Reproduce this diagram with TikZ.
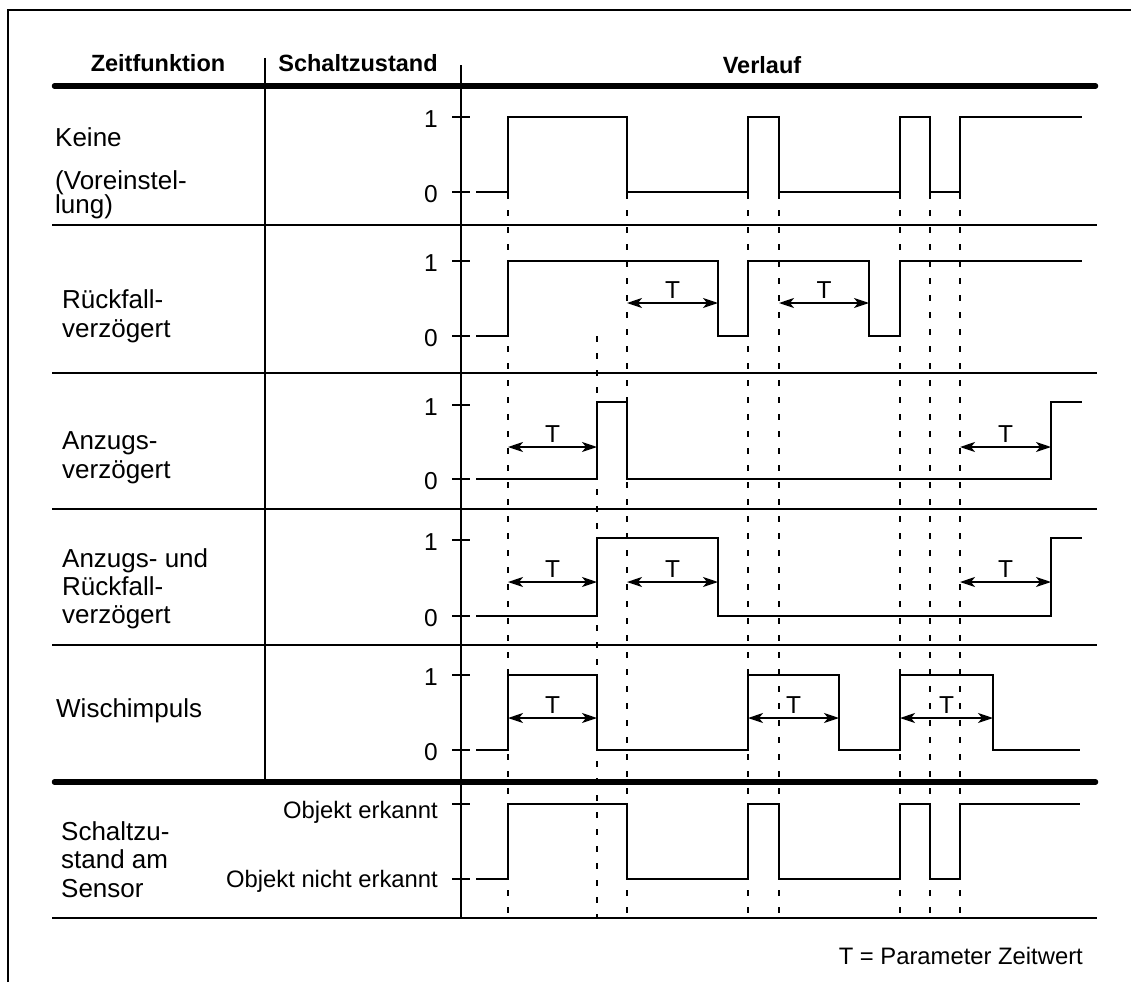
\documentclass[tikz,border=0pt]{standalone}
\usepackage{fontspec}
\setmainfont{Liberation Sans}
\usetikzlibrary{arrows.meta}

% switching instants along the time axis (x positions)
\def\ptA{508}\def\ptB{597}\def\ptC{627}\def\ptD{748}
\def\ptE{779}\def\ptF{900}\def\ptG{930}\def\ptH{960}
% delayed edges
\def\ptRf{718}\def\ptRg{869}\def\ptWd{839}\def\ptWg{993}\def\ptAe{1051}
\def\ptXs{476}\def\ptXe{1082}

\newcommand\tspan[4]{%
  \coordinate (#1-l) at (#2,#4);
  \coordinate (#1-r) at (#3,#4);
  \draw[span] (#1-l) -- (#1-r);
  \node[tlabel] (#1) at ({(#2+#3)/2},#4-4.5) {T};
}

\begin{document}
\begin{tikzpicture}[x=1pt,y=-1pt,
  frame/.style={line width=1.5pt},
  rowrule/.style={line width=2pt},
  heavyrule/.style={line width=5.5pt,line cap=round},
  colrule/.style={line width=2.4pt},
  signal/.style={line width=1.6pt,line join=miter},
  axistick/.style={line width=1.4pt},
  guide/.style={line width=1.3pt,dash pattern=on 6pt off 11pt},
  span/.style={line width=1.5pt,
    {Stealth[length=15pt,width=10pt,inset=4pt]}-{Stealth[length=15pt,width=10pt,inset=4pt]}},
  txt/.style={font=\fontsize{23.8}{28}\selectfont,inner sep=0pt},
  lbl/.style={inner sep=0pt,font=\fontsize{26}{30}\selectfont,anchor=base west},
  head/.style={txt,font=\fontsize{23.5}{28}\selectfont\bfseries,anchor=base},
  level/.style={txt,font=\fontsize{24.5}{28}\selectfont,anchor=east},
  tlabel/.style={txt,font=\fontsize{24.5}{28}\selectfont,anchor=base},
]
\useasboundingbox (0,0) rectangle (1131,982);

% outer frame
\draw[frame] (8,982) -- (8,10) -- (1131,10);

% dashed guide lines at the switching instants
\foreach \x in {\ptA,\ptC,\ptD,\ptE,\ptF,\ptG,\ptH}
  \draw[guide] (\x,193) -- (\x,918);
\draw[guide] (\ptB,336) -- (\ptB,918);

% table rules
\draw[heavyrule] (54.5,86) -- (1095.5,86);
\draw[heavyrule] (54.5,782) -- (1095.5,782);
\foreach \y in {225,373,509,645,918}
  \draw[rowrule] (52,\y) -- (1097,\y);
\draw[colrule] (265,58) -- (265,782);
\draw[colrule] (461,65) -- (461,918);

% axis ticks
\foreach \y in {117,192,261,336,405,479,540,616,675,750,804,879}
  \draw[axistick] (452,\y) -- (470,\y);

% header
\node[head] (hz) at (158,71) {Zeitfunktion};
\node[head] (hs) at (358,71) {Schaltzustand};
\node[head] (hv) at (762,74) {Verlauf};

% row labels
\node[lbl] (k1) at (55,146) {Keine};
\node[lbl] (k2) at (55,189) {(Voreinstel-};
\node[lbl] (k3) at (55,213) {lung)};
\node[lbl] (r1) at (62,308) {Rückfall-};
\node[lbl] (r2) at (62,337) {verzögert};
\node[lbl] (a1) at (62,449) {Anzugs-};
\node[lbl] (a2) at (62,478) {verzögert};
\node[lbl] (b1) at (62,567) {Anzugs- und};
\node[lbl] (b2) at (62,595) {Rückfall-};
\node[lbl] (b3) at (62,623) {verzögert};
\node[lbl] (w1) at (56,717) {Wischimpuls};
\node[lbl] (s1) at (61,840) {Schaltzu-};
\node[lbl] (s2) at (61,868) {stand am};
\node[lbl] (s3) at (61,897) {Sensor};

% level labels
\foreach \y/\n [count=\i] in {117/1,192/0,261/1,336/0,405/1,479/0,540/1,616/0,675/1,750/0}
  \node[level] (lv\i) at (438,\y+2) {\n};
\node[txt,anchor=base east] (on) at (438,818) {Objekt erkannt};
\node[txt,anchor=base east] (off) at (438,887) {Objekt nicht erkannt};

% signal traces
\draw[signal] (\ptXs,192) -- (\ptA,192) -- (\ptA,117) -- (\ptC,117) -- (\ptC,192)
  -- (\ptD,192) -- (\ptD,117) -- (\ptE,117) -- (\ptE,192) -- (\ptF,192) -- (\ptF,117)
  -- (\ptG,117) -- (\ptG,192) -- (\ptH,192) -- (\ptH,117) -- (\ptXe,117);
\draw[signal] (\ptXs,336) -- (\ptA,336) -- (\ptA,261) -- (\ptRf,261) -- (\ptRf,336)
  -- (\ptD,336) -- (\ptD,261) -- (\ptRg,261) -- (\ptRg,336) -- (\ptF,336) -- (\ptF,261)
  -- (\ptXe,261);
\draw[signal] (\ptXs,479) -- (\ptB,479) -- (\ptB,402) -- (\ptC,402) -- (\ptC,479)
  -- (\ptAe,479) -- (\ptAe,402) -- (\ptXe,402);
\draw[signal] (\ptXs,616) -- (\ptB,616) -- (\ptB,538) -- (\ptRf,538) -- (\ptRf,616)
  -- (\ptAe,616) -- (\ptAe,538) -- (\ptXe,538);
\draw[signal] (\ptXs,750) -- (\ptA,750) -- (\ptA,675) -- (\ptB,675) -- (\ptB,750)
  -- (\ptD,750) -- (\ptD,675) -- (\ptWd,675) -- (\ptWd,750) -- (\ptF,750) -- (\ptF,675)
  -- (\ptWg,675) -- (\ptWg,750) -- (1080,750);
\draw[signal] (\ptXs,879) -- (\ptA,879) -- (\ptA,804) -- (\ptC,804) -- (\ptC,879)
  -- (\ptD,879) -- (\ptD,804) -- (\ptE,804) -- (\ptE,879) -- (\ptF,879) -- (\ptF,804)
  -- (\ptG,804) -- (\ptG,879) -- (\ptH,879) -- (\ptH,804) -- (1080,804);

% delay spans
\tspan{ra}{\ptC}{\ptRf}{303}
\tspan{rb}{\ptE}{\ptRg}{303}
\tspan{aa}{\ptA}{\ptB}{447}
\tspan{ab}{\ptH}{\ptAe}{447}
\tspan{ba}{\ptA}{\ptB}{582}
\tspan{bb}{\ptC}{\ptRf}{582}
\tspan{bc}{\ptH}{\ptAe}{582}
\tspan{wa}{\ptA}{\ptB}{718}
\tspan{wb}{\ptD}{\ptWd}{718}
\tspan{wc}{\ptF}{\ptWg}{718}

% legend
\node[txt,anchor=base east] (legend) at (1083,964) {T = Parameter Zeitwert};
\end{tikzpicture}
\end{document}
